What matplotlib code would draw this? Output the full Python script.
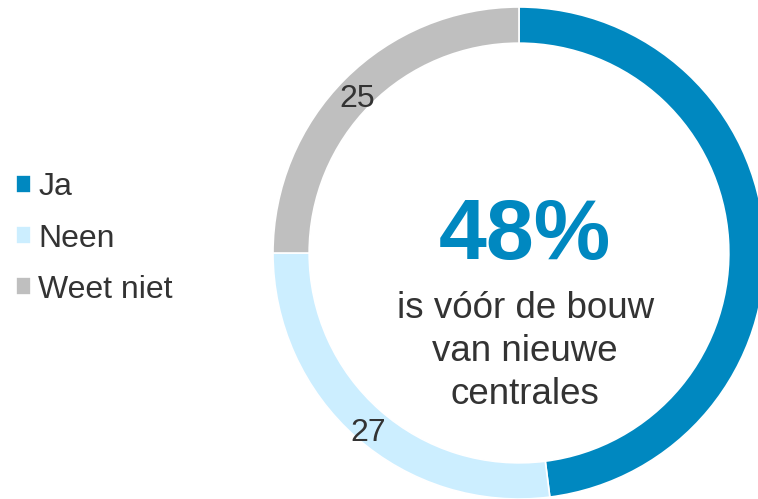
import numpy as np
import matplotlib
matplotlib.use("Agg")
import matplotlib.pyplot as plt

plt.rcParams['font.family'] = ['Liberation Sans', 'DejaVu Sans']

# Gegevens
categorieen = ["Ja", "Neen", "Weet niet"]
waarden = [48, 27, 25]
kleuren = ["#0088c0", "#cceeff", "#bfbfbf"]
toon_label = [False, True, True]
kop = "48%"
onderschrift = "is vóór de bouw\nvan nieuwe\ncentrales"

W, H = 758, 499
fig = plt.figure(figsize=(W / 100, H / 100), dpi=100)

# as in pixels: middelpunt (519, 253), straal 246
cx, cy, r = 519, 253, 246
ax = fig.add_axes([(cx - r) / W, (H - cy - r) / H, 2 * r / W, 2 * r / H])

wedges, _ = ax.pie(waarden, colors=kleuren, startangle=90, counterclock=False,
                   radius=1, wedgeprops=dict(width=0.147, edgecolor="white", linewidth=1.2))
ax.set_xlim(-1, 1)
ax.set_ylim(-1, 1)
ax.axis("off")

# waardelabels in het midden van de ring
for w, v, toon in zip(wedges, waarden, toon_label):
    if not toon:
        continue
    hoek = np.deg2rad((w.theta1 + w.theta2) / 2)
    ax.text(0.93 * np.cos(hoek), 0.93 * np.sin(hoek) - 0.033, str(v), ha="center",
            va="center", fontsize=23, color="#333333")

ax.text(0.025, 0.065, kop, ha="center", va="center", fontsize=62, fontweight="bold",
        color="#0088c0")
ax.text(0.025, -0.40, onderschrift, ha="center", va="center", fontsize=26.5,
        color="#333333", linespacing=1.29)

fig.legend(wedges, categorieen, loc="center left", bbox_to_anchor=(0.0, 0.522),
           frameon=False, fontsize=23, handlelength=0.48, handleheight=0.48,
           handletextpad=0.22, labelspacing=0.66, borderaxespad=0.1, labelcolor="#333333")

fig.savefig("out.png", dpi=100)
